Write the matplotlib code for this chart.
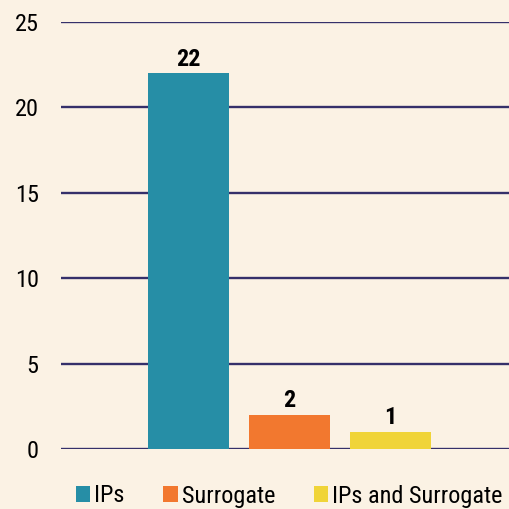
import matplotlib
matplotlib.use("Agg")
import matplotlib.pyplot as plt
from matplotlib import font_manager

series = ["IPs", "Surrogate", "IPs and Surrogate"]
values = [22, 2, 1]
colors = ["#268EA6", "#F2782F", "#F0D438"]
yticks = [0, 5, 10, 15, 20, 25]

avail = {f.name for f in font_manager.fontManager.ttflist}
fam = [f for f in ["Liberation Sans Narrow", "Roboto Condensed", "Liberation Sans", "DejaVu Sans"] if f in avail]
plt.rcParams["font.family"] = fam

bg = "#FBF2E4"
fig = plt.figure(figsize=(5.09, 5.09), dpi=100, facecolor=bg)
ax = fig.add_axes([61/509, 1-449/509, 1-61/509, (449-22)/509], facecolor=bg)

xs = list(range(len(values)))
for i, (s, v, c) in enumerate(zip(series, values, colors)):
    ax.bar(xs[i], v, width=0.8, color=c, label=s, zorder=3)
    ax.text(xs[i], v + 0.15, str(v), ha="center", va="bottom", fontsize=17.5,
            fontweight="bold", color="black", zorder=4)

ax.set_xlim(-1.262, 3.173)
ax.set_ylim(0, 25)
ax.set_yticks(yticks)
ax.set_yticklabels([str(t) for t in yticks], fontsize=17.5)
ax.set_xticks([])
ax.grid(axis="y", color="#35306A", linewidth=1.7, zorder=1)
ax.tick_params(axis="y", length=0, pad=16)
for sp in ax.spines.values():
    sp.set_visible(False)

leg = fig.legend(loc="center", bbox_to_anchor=(0.568, 1-496/509), ncol=3, frameon=False,
                 fontsize=17.5, handlelength=0.6, handleheight=0.6, handletextpad=0.15,
                 columnspacing=1.6, borderaxespad=0, borderpad=0)

fig.savefig("out.png", dpi=100, facecolor=bg)
